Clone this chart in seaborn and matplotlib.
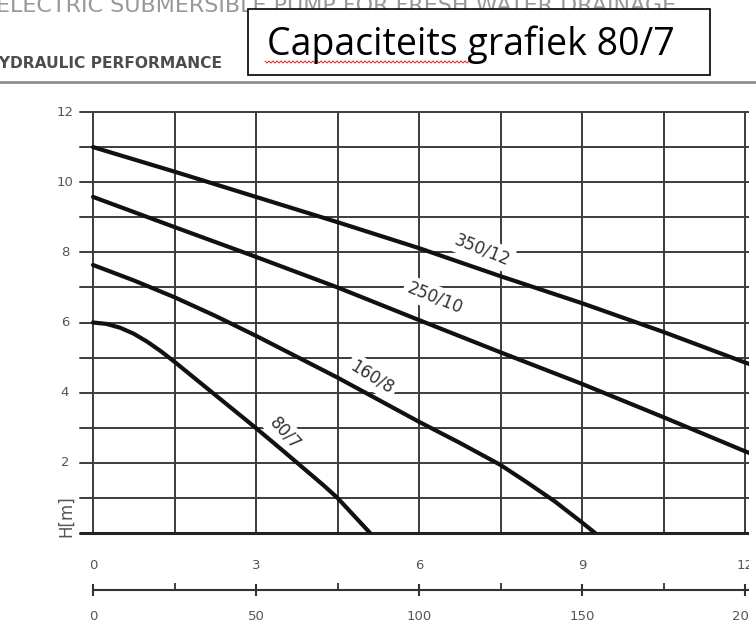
import numpy as np
import pandas as pd
import seaborn as sns
import matplotlib.pyplot as plt
from matplotlib.patches import Rectangle
from matplotlib.lines import Line2D

# pompcurves, opvoerhoogte H[m] tegen debiet Q[m3/h]
q_350 = [0, 1.5, 3, 4.5, 6, 7.5, 9, 10.5, 12, 12.3]
h_350 = [11.0, 10.3, 9.58, 8.86, 8.12, 7.32, 6.55, 5.73, 4.86, 4.7]
q_250 = [0, 1.5, 3, 4.5, 6, 7.5, 9, 10.5, 12, 12.3]
h_250 = [9.58, 8.72, 7.87, 7.0, 6.07, 5.15, 4.25, 3.3, 2.33, 2.15]
q_160 = [0, 0.75, 1.5, 2.25, 3, 4.5, 6, 6.75, 7.5, 8.0, 8.5, 8.75, 9.0, 9.24]
h_160 = [7.64, 7.2, 6.72, 6.19, 5.62, 4.43, 3.17, 2.57, 1.94, 1.43, 0.9, 0.6, 0.3, 0.0]
q_80 = [0, 0.25, 0.5, 0.75, 1.0, 1.25, 1.5, 2.0, 2.5, 3.0, 3.5, 4.0, 4.25, 4.5, 4.8, 5.1]
h_80 = [6.0, 5.96, 5.85, 5.68, 5.45, 5.18, 4.88, 4.25, 3.62, 2.99, 2.34, 1.68, 1.35, 1.0, 0.5, 0.0]

models = ["350/12", "250/10", "160/8", "80/7"]
m3h_ticks = [0, 3, 6, 9, 12]
lmin_ticks = [0, 50, 100, 150, 200]
lmin_minor = [25, 75, 125, 175]
h_ticks = [2, 4, 6, 8, 10, 12]

df = pd.concat([
    pd.DataFrame({"Q": q_350, "H": h_350, "model": "350/12"}),
    pd.DataFrame({"Q": q_250, "H": h_250, "model": "250/10"}),
    pd.DataFrame({"Q": q_160, "H": h_160, "model": "160/8"}),
    pd.DataFrame({"Q": q_80, "H": h_80, "model": "80/7"}),
])

sns.set_theme(style="white")
plt.rcParams["font.family"] = ["DejaVu Sans"]

W, H = 756, 644
fig = plt.figure(figsize=(W / 100, H / 100), dpi=100)


def fx(x):
    return x / W


def fy(y):
    return 1 - y / H


# hoofdgrafiek: Q 0 op pixel 93, 12 op 745; H 0 op 533, 12 op 112
ppu = (745 - 93) / 12
x0 = (80 - 93) / ppu
x1 = (750 - 93) / ppu
ax = fig.add_axes([fx(80), fy(533), fx(750) - fx(80), (533 - 112) / H])
ax.set_xlim(x0, x1)
ax.set_ylim(0, 12)
for s in ax.spines.values():
    s.set_visible(False)

grid_c = "#3c3c3c"
for v in np.arange(0, 12.01, 1.5):
    ax.axvline(v, color=grid_c, lw=1.4, zorder=1, clip_on=False)
for h in range(1, 13):
    ax.axhline(h, color=grid_c, lw=1.4, zorder=1, clip_on=False)
ax.axhline(0, color="#222222", lw=2.2, zorder=1, clip_on=False)

sns.lineplot(data=df, x="Q", y="H", hue="model", hue_order=models,
             palette=["#111111"] * 4, sort=False, estimator=None,
             lw=3.0, legend=False, ax=ax, zorder=4)

lbl_pos = {"350/12": (7.16, 8.07, -22), "250/10": (6.29, 6.70, -22),
           "160/8": (5.14, 4.45, -32), "80/7": (3.53, 2.85, -48)}
for m in models:
    lx, ly, rot = lbl_pos[m]
    ax.text(lx, ly, m, rotation=rot, rotation_mode="anchor", ha="center",
            va="center", fontsize=12, color="#333333", zorder=3,
            bbox=dict(facecolor="white", edgecolor="none", pad=2.5))

ax.set_xticks(m3h_ticks)
ax.set_xticklabels([str(t) for t in m3h_ticks])
ax.set_yticks([])
ax.tick_params(axis="x", length=0, pad=19, labelsize=9.5, labelcolor="#555555")
ax.set_xlabel("")
ax.set_ylabel("")
for t in h_ticks:
    ax.text((65 - 93) / ppu, t, str(t), ha="center", va="center",
            fontsize=9.5, color="#555555")
ax.text((66 - 93) / ppu, (533 - 516) / ((533 - 112) / 12), "H[m]", rotation=90,
        ha="center", va="center", fontsize=12, color="#555555")

# tweede schaal in l/min
ax2 = fig.add_axes([fx(80), fy(590), fx(750) - fx(80), 0.0001])
ax2.set_xlim(x0 * 200 / 12, x1 * 200 / 12)
ax2.patch.set_visible(False)
for k in ["left", "right", "top"]:
    ax2.spines[k].set_visible(False)
ax2.spines["bottom"].set_bounds(0, 203)
ax2.spines["bottom"].set_color("#333333")
ax2.spines["bottom"].set_linewidth(1.5)
ax2.set_yticks([])
ax2.set_xticks(lmin_ticks)
ax2.set_xticklabels([str(t) for t in lmin_ticks])
ax2.set_xticks(lmin_minor, minor=True)
ax2.tick_params(axis="x", which="major", direction="inout", length=9, width=1.5,
                color="#333333", pad=10, labelsize=9.5, labelcolor="#555555",
                bottom=True)
ax2.tick_params(axis="x", which="minor", direction="in", length=5, width=1.3,
                color="#333333", bottom=True)

# kop
fig.text(fx(-4), fy(12), "ELECTRIC SUBMERSIBLE PUMP FOR FRESH WATER DRAINAGE",
         fontsize=16, color="#999999", ha="left", va="baseline", zorder=2)
fig.text(fx(222), fy(68), "HYDRAULIC PERFORMANCE", fontsize=11.2,
         fontweight="bold", color="#4d4d4d", ha="right", va="baseline")
fig.add_artist(Line2D([0, 1], [fy(82), fy(82)], color="#8a8a8a", lw=1.9))

fig.add_artist(Rectangle((fx(248), fy(75)), fx(710) - fx(248), (75 - 9) / H,
                         facecolor="white", edgecolor="black", lw=1.2, zorder=5))
fig.text(fx(267), fy(55), "Capaciteits grafiek 80/7", fontsize=27,
         family=["Open Sans", "DejaVu Sans"], color="black", ha="left",
         va="baseline", zorder=6)
sq_x = np.arange(265, 472, 2.0)
sq_y = 62 + np.where(np.arange(len(sq_x)) % 2 == 0, -1.0, 1.0)
fig.add_artist(Line2D(fx(sq_x), fy(sq_y), color="#e02020", lw=0.7, zorder=6))

# rechterrand van de uitsnede
fig.add_artist(Rectangle((fx(749), 0), 1 - fx(749), fy(82) - 0.004,
                         facecolor="white", edgecolor="none", zorder=10))

fig.savefig("out.png", dpi=100)
